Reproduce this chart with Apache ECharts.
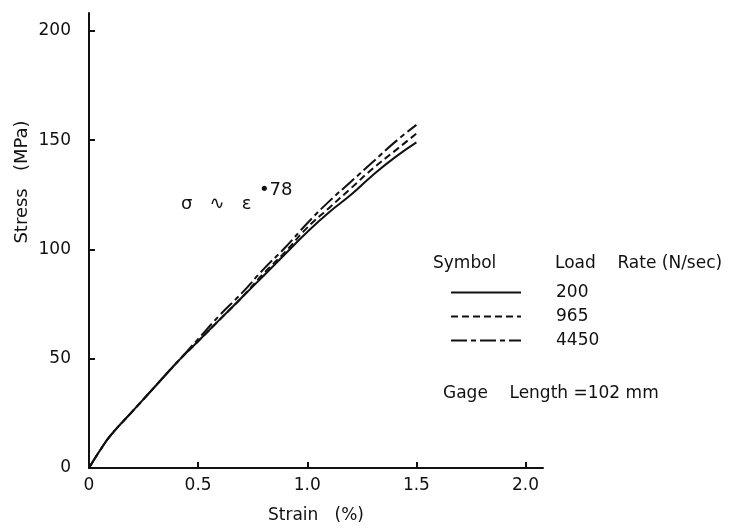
<!DOCTYPE html>
<html>
<head>
<meta charset="utf-8">
<script src="https://cdn.jsdelivr.net/npm/echarts@6/dist/echarts.min.js"></script>
<style>
  html, body { margin: 0; padding: 0; background: #fff; }
  #chart { width: 735px; height: 529px; }
</style>
</head>
<body>
<div id="chart"></div>
<script>
// strain (%) sampled along the curves
var strain = [0, 0.05, 0.1, 0.2, 0.3, 0.4, 0.5, 0.6, 0.7, 0.8, 0.9, 1.0, 1.1, 1.2, 1.3, 1.4, 1.5];
// stress (MPa) for each load rate
var rate200  = [0, 8, 15, 26, 37, 48, 58, 68, 78, 88, 98, 108, 117, 125, 134, 142, 149];
var rate965  = [0, 8, 15, 26, 37, 48, 58, 68, 78, 89, 99, 110, 119, 128, 137, 145, 153];
var rate4450 = [0, 8, 15, 26, 37, 48, 59, 70, 80, 91, 101, 112, 122, 131, 140, 149, 157];
var rateNames = ['200', '965', '4450'];

var font = 'DejaVu Sans';

function pairs(ys) {
  return strain.map(function (x, i) { return [x, ys[i]]; });
}

var chart = echarts.init(document.getElementById('chart'));

chart.setOption({
  animation: false,
  backgroundColor: '#fff',
  grid: { left: 89, right: 192, top: 13, bottom: 58 },
  xAxis: {
    type: 'value',
    min: 0, max: 2.08, interval: 0.5,
    name: 'Strain   (%)', nameLocation: 'middle', nameGap: 39,
    nameTextStyle: { fontFamily: font, fontSize: 17, color: '#111' },
    axisLine: { lineStyle: { color: '#111', width: 2 } },
    axisTick: { inside: true, length: 6, lineStyle: { color: '#111', width: 2 } },
    axisLabel: {
      fontFamily: font, fontSize: 17, color: '#111', margin: 9, showMaxLabel: false,
      formatter: function (v) { return v === 0 ? '0' : v.toFixed(1); }
    },
    splitLine: { show: false }
  },
  yAxis: {
    type: 'value',
    min: 0, max: 208.2, interval: 50,
    axisLine: { show: true, lineStyle: { color: '#111', width: 2 } },
    axisTick: { show: true, inside: true, length: 6, lineStyle: { color: '#111', width: 2 } },
    axisLabel: { fontFamily: font, fontSize: 17, color: '#111', margin: 18, showMaxLabel: false },
    splitLine: { show: false }
  },
  legend: {
    orient: 'vertical',
    left: 445, top: 279,
    itemWidth: 70, itemHeight: 14, itemGap: 7,
    itemStyle: { opacity: 0, borderWidth: 0 },
    textStyle: { fontFamily: font, fontSize: 17, color: '#111', padding: [0, 0, 0, 30] },
    data: rateNames
  },
  series: [
    {
      name: rateNames[0], type: 'line', data: pairs(rate200), smooth: true,
      symbol: 'none', itemStyle: { color: '#111' },
      lineStyle: { color: '#111', width: 2, type: 'solid' }
    },
    {
      name: rateNames[1], type: 'line', data: pairs(rate965), smooth: true,
      symbol: 'none', itemStyle: { color: '#111' },
      lineStyle: { color: '#111', width: 2, type: [7, 4] }
    },
    {
      name: rateNames[2], type: 'line', data: pairs(rate4450), smooth: true,
      symbol: 'none', itemStyle: { color: '#111' },
      lineStyle: { color: '#111', width: 2, type: [16, 4, 5, 4] }
    }
  ],
  graphic: [
    {
      type: 'text', x: 22, y: 182, rotation: Math.PI / 2,
      style: { text: 'Stress   (MPa)', fontFamily: font, fontSize: 18, fill: '#111', align: 'center', verticalAlign: 'middle' }
    },
    {
      type: 'text', x: 433, y: 264,
      style: { text: 'Symbol', fontFamily: font, fontSize: 17, fill: '#111', verticalAlign: 'middle' }
    },
    {
      type: 'text', x: 555, y: 264,
      style: { text: 'Load    Rate (N/sec)', fontFamily: font, fontSize: 17, fill: '#111', verticalAlign: 'middle' }
    },
    {
      type: 'text', x: 443, y: 394,
      style: { text: 'Gage    Length =102 mm', fontFamily: font, fontSize: 17, fill: '#111', verticalAlign: 'middle' }
    },
    {
      type: 'text', x: 181, y: 204,
      style: { text: 'σ   ∿   ε', fontFamily: font, fontSize: 18, fill: '#111', verticalAlign: 'middle' }
    },
    {
      type: 'text', x: 259, y: 190,
      style: { text: '•78', fontFamily: font, fontSize: 18, fill: '#111', verticalAlign: 'middle' }
    }
  ]
});
</script>
</body>
</html>
